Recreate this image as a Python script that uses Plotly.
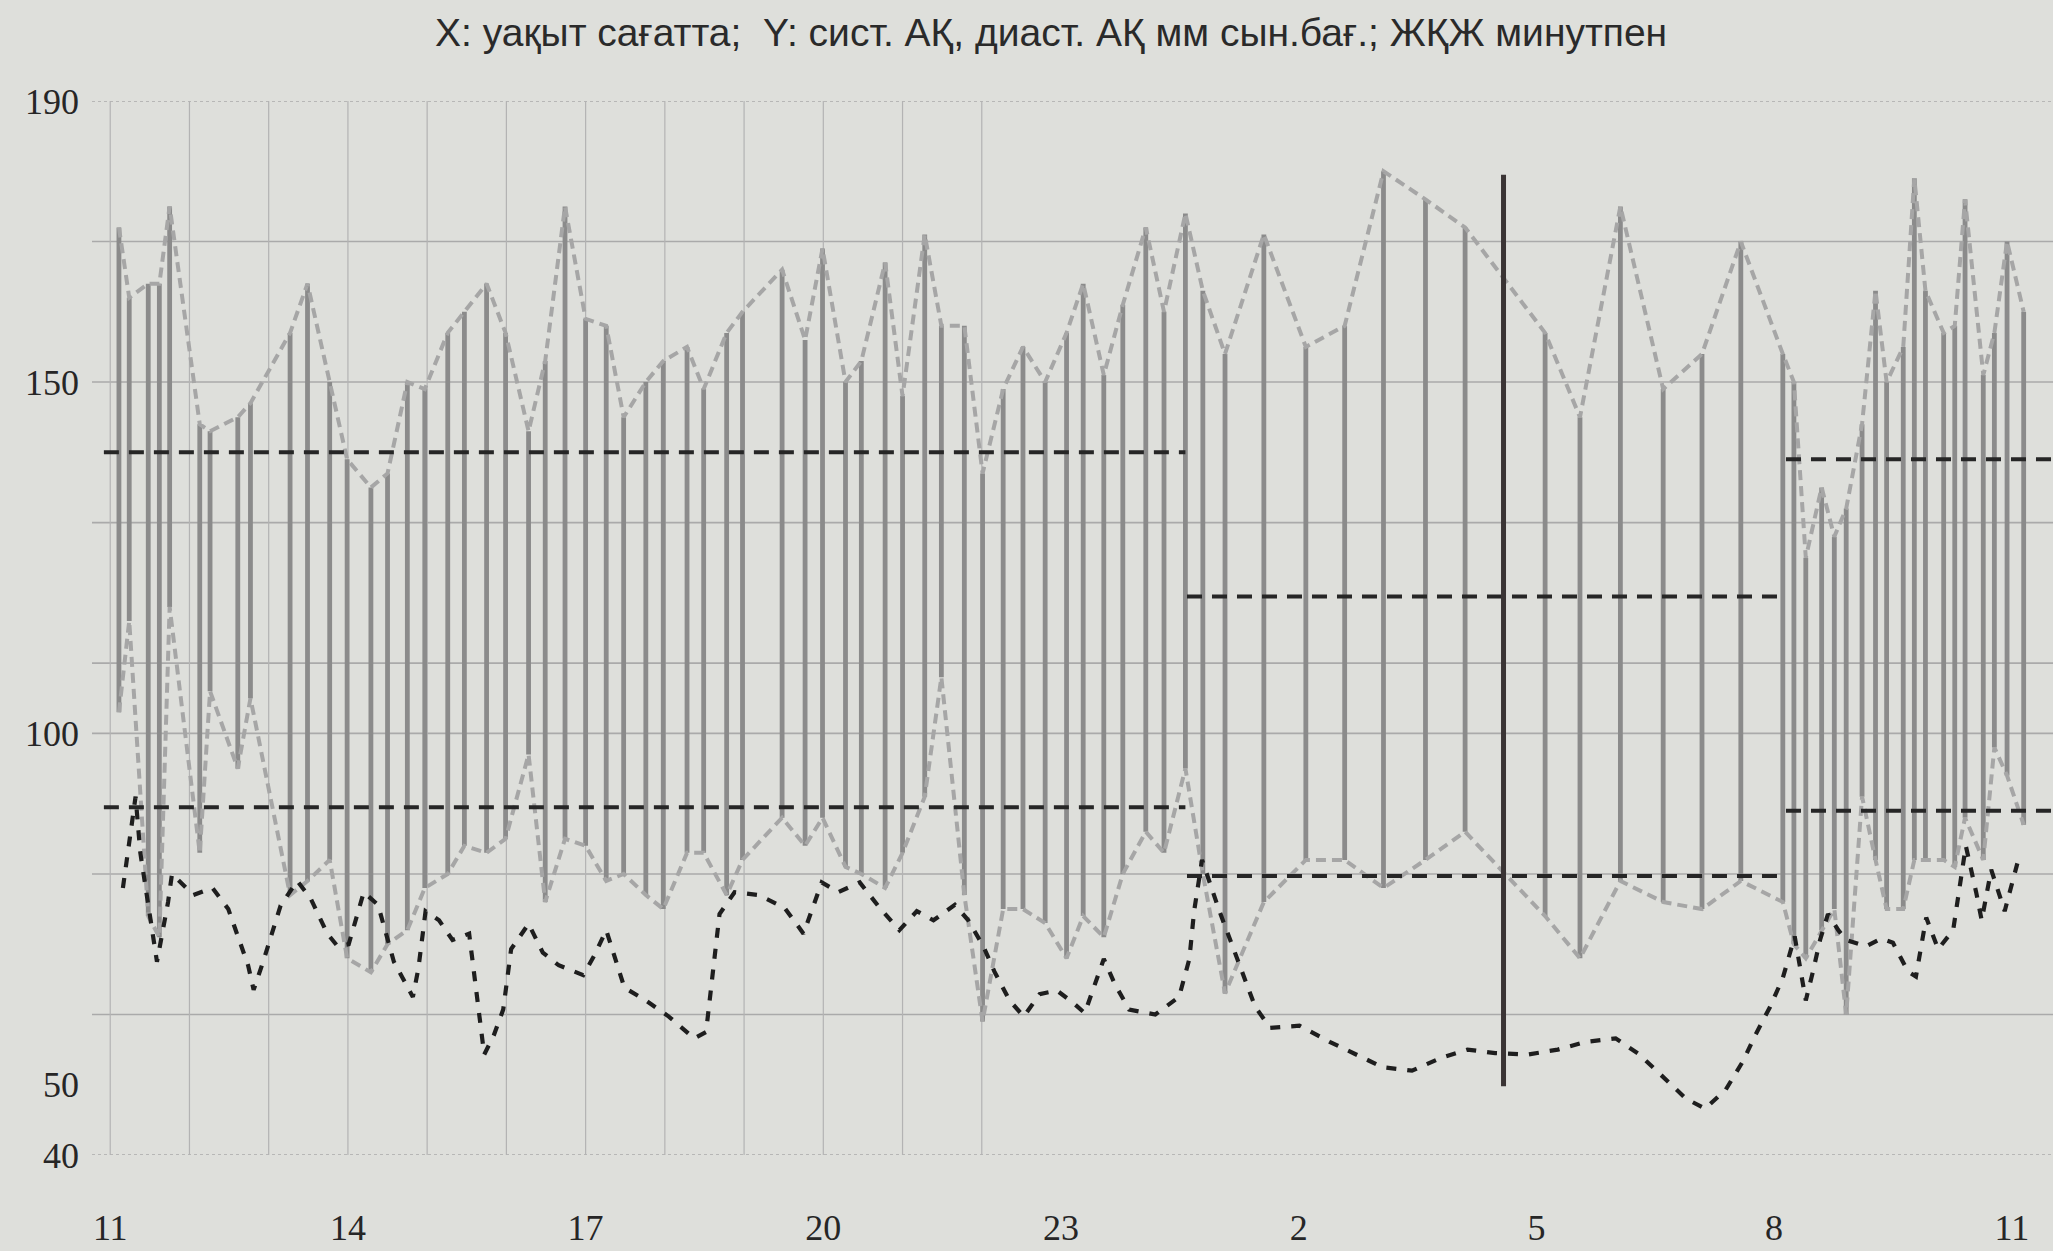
import plotly.graph_objects as go

# ---- data (hours from the start day; 24+ = next day) ----
meas_time = [11.11, 11.24, 11.48, 11.62, 11.75, 12.13, 12.26, 12.61, 12.77, 13.27,
             13.49, 13.77, 13.99, 14.29, 14.50, 14.75, 14.97, 15.26, 15.47, 15.75,
             15.99, 16.28, 16.49, 16.74, 17.00, 17.26, 17.48, 17.76, 17.98, 18.28,
             18.49, 18.78, 18.98, 19.48, 19.77, 19.99, 20.28, 20.48, 20.78, 21.00,
             21.28, 21.49, 21.78, 22.01, 22.27, 22.52, 22.80, 23.07, 23.28, 23.54,
             23.78, 24.07, 24.30, 24.57, 24.79, 25.07, 25.56, 26.09, 26.58, 27.07,
             27.60, 28.10, 29.11, 29.55, 30.06, 30.60, 31.09, 31.58, 32.11, 32.25,
             32.40, 32.60, 32.76, 32.91, 33.11, 33.28, 33.42, 33.63, 33.77, 33.91,
             34.14, 34.28, 34.41, 34.64, 34.78, 34.94, 35.15]
systolic = [172, 162, 164, 164, 175, 144, 143, 145, 147, 157,
            164, 150, 139, 135, 137, 150, 149, 157, 160, 164,
            157, 143, 153, 175, 159, 158, 145, 150, 153, 155,
            149, 157, 160, 166, 156, 169, 150, 153, 167, 148,
            171, 158, 158, 137, 149, 155, 150, 157, 164, 151,
            161, 172, 160, 174, 163, 154, 171, 155, 158, 180,
            176, 172, 157, 145, 175, 149, 154, 170, 154, 150,
            125, 135, 128, 132, 144, 163, 150, 155, 179, 163,
            157, 158, 176, 151, 157, 170, 160]
diastolic = [103, 116, 74, 71, 118, 83, 106, 95, 105, 77,
             79, 82, 68, 66, 70, 72, 78, 80, 84, 83,
             85, 97, 76, 85, 84, 79, 80, 77, 75, 83,
             83, 77, 82, 88, 84, 88, 81, 80, 78, 83,
             91, 108, 77, 59, 75, 75, 73, 68, 74, 71,
             80, 86, 83, 95, 80, 63, 76, 82, 82, 78,
             82, 86, 74, 68, 79, 76, 75, 79, 76, 70,
             68, 72, 75, 60, 91, 82, 75, 75, 82, 82,
             82, 81, 88, 82, 98, 94, 87]

hr_time = [11.16, 11.32, 11.38, 11.59, 11.73, 11.78, 12.05, 12.29, 12.49, 12.74,
           12.81, 12.93, 13.15, 13.36, 13.53, 13.74, 13.87, 14.01, 14.20, 14.38,
           14.58, 14.82, 14.89, 14.98, 15.15, 15.32, 15.53, 15.61, 15.72, 15.84,
           15.96, 16.06, 16.28, 16.46, 16.66, 16.97, 17.11, 17.26, 17.38, 17.49,
           17.76, 18.05, 18.37, 18.52, 18.69, 18.88, 19.18, 19.51, 19.75, 19.87,
           19.98, 20.19, 20.46, 20.71, 20.96, 21.18, 21.39, 21.66, 21.83, 22.02,
           22.16, 22.35, 22.53, 22.73, 22.95, 23.16, 23.30, 23.54, 23.68, 23.86,
           24.19, 24.49, 24.62, 24.68, 24.78, 24.99, 25.20, 25.45, 25.64, 26.01,
           26.39, 26.74, 27.06, 27.43, 27.79, 28.13, 28.48, 28.89, 29.27, 29.62,
           30.00, 30.30, 30.60, 30.89, 31.13, 31.39, 31.61, 31.76, 31.95, 32.11,
           32.26, 32.40, 32.49, 32.58, 32.68, 32.81, 32.91, 33.16, 33.35, 33.50,
           33.69, 33.79, 33.92, 34.07, 34.26, 34.42, 34.55, 34.62, 34.74, 34.91,
           35.07]
heart_rate = [78, 91, 83, 67.5, 76, 80, 77, 78, 75, 67,
              63.5, 67.5, 75.5, 79, 76.5, 71.5, 69.7, 70, 77.4, 75.6,
              67.5, 62.5, 66.6, 74.7, 73.4, 70.6, 71.5, 64.3, 54.3, 57,
              60.7, 69.3, 72.9, 68.8, 67, 65.6, 68.4, 72, 67.5, 63.8,
              62, 59.7, 56.6, 57.5, 74.3, 77.4, 77, 75.2, 71.5, 75.2,
              78.8, 77.4, 78.8, 75.2, 72, 74.7, 73.4, 75.6, 73.4, 69.7,
              66.1, 62, 59.7, 62.9, 63.4, 61.6, 60.2, 67.9, 64.3, 60.7,
              60, 62.5, 67.9, 74.7, 82, 75, 68.8, 61.1, 58.1, 58.4,
              56.1, 54.3, 52.5, 52, 53.8, 55, 54.5, 54.3, 55, 56.1,
              56.6, 54.3, 51.1, 48, 46.6, 49.3, 53.4, 57, 61.1, 65.2,
              71.1, 62, 66.1, 70.6, 74.3, 72, 70.6, 69.7, 70.8, 70.2,
              66.1, 65.4, 73.8, 69.3, 72, 84, 77.4, 73.4, 80.6, 74.7,
              81.5]

# period means: day, night, morning
period_start = [10.92, 24.59, 32.15]
period_end = [24.57, 32.09, 35.6]
sys_mean = [140, 119.5, 139]
dia_mean = [89.5, 79.7, 89]

marker_time = 28.585
marker_low = 49.8
marker_high = 179.5

x_tick_vals = [11, 14, 17, 20, 23, 26, 29, 32, 35]
x_tick_text = ["11", "14", "17", "20", "23", "2", "5", "8", "11"]
y_tick_vals = [40, 50, 100, 150, 190]
h_grid = [40, 60, 80, 100, 110, 130, 150, 170, 190]
v_grid = [11, 12, 13, 14, 15, 16, 17, 18, 19, 20, 21, 22]

title_text = "X: уақыт сағатта;&nbsp; Y: сист. АҚ, диаст. АҚ мм сын.бағ.; ЖҚЖ минутпен"

BG = "#dedfdb"
GRID = "#aaaaaa"

fig = go.Figure()

# vertical bars (diastolic -> systolic)
bx, by = [], []
for t, s, d in zip(meas_time, systolic, diastolic):
    bx += [t, t, None]
    by += [d, s, None]
fig.add_trace(go.Scatter(x=bx, y=by, mode="lines",
                         line=dict(color="#8b8b8b", width=4.8),
                         hoverinfo="skip", showlegend=False))

# light dashed systolic / diastolic curves
fig.add_trace(go.Scatter(x=meas_time, y=systolic, mode="lines",
                         line=dict(color="#a6a6a6", width=4, dash="10px,6px"),
                         showlegend=False))
fig.add_trace(go.Scatter(x=meas_time, y=diastolic, mode="lines",
                         line=dict(color="#a6a6a6", width=4, dash="10px,6px"),
                         showlegend=False))

# heart rate
fig.add_trace(go.Scatter(x=hr_time, y=heart_rate, mode="lines",
                         line=dict(color="#1e1e1e", width=4.2, dash="10px,11px"),
                         showlegend=False))

# mean lines
for means in (sys_mean, dia_mean):
    mx, my = [], []
    for a, b, m in zip(period_start, period_end, means):
        mx += [a, b, None]
        my += [m, m, None]
    fig.add_trace(go.Scatter(x=mx, y=my, mode="lines",
                             line=dict(color="#262626", width=4, dash="15px,10px"),
                             showlegend=False))

# marker line
fig.add_trace(go.Scatter(x=[marker_time, marker_time], y=[marker_low, marker_high],
                         mode="lines", line=dict(color="#3a3434", width=5),
                         showlegend=False))

shapes = []
for v in h_grid:
    shapes.append(dict(type="line", xref="paper", yref="y", x0=0, x1=1, y0=v, y1=v,
                       line=dict(color=GRID, width=1.6,
                                 dash="dot" if v in (40, 190) else "solid"),
                       layer="below"))
for h in v_grid:
    shapes.append(dict(type="line", xref="x", yref="paper", x0=h, x1=h, y0=0, y1=1,
                       line=dict(color="#b3b3b3", width=1.2), layer="below"))

fig.update_layout(
    width=2053, height=1251,
    margin=dict(l=92, r=0, t=101, b=96),
    paper_bgcolor=BG, plot_bgcolor=BG,
    shapes=shapes,
    title=dict(text=title_text, x=0.512, xanchor="center", xref="container",
               y=0.974, yanchor="middle", yref="container",
               font=dict(family="Liberation Sans, Arial, sans-serif", size=39, color="#2a2a2a")),
    xaxis=dict(range=[10.77, 35.52], showgrid=False, zeroline=False, showline=False,
               tickmode="array", tickvals=x_tick_vals, ticktext=x_tick_text,
               ticks="", ticklabelstandoff=48,
               tickfont=dict(family="Liberation Serif, Times New Roman, serif", size=36, color="#262626")),
    yaxis=dict(range=[40, 190], showgrid=False, zeroline=False, showline=False,
               tickmode="array", tickvals=y_tick_vals,
               ticks="", ticklabelstandoff=12,
               tickfont=dict(family="Liberation Serif, Times New Roman, serif", size=36, color="#262626")),
)

fig.write_html("out.html", config={"displayModeBar": False},
               post_script="document.body.style.margin='0';document.body.style.background='%s';" % BG)
